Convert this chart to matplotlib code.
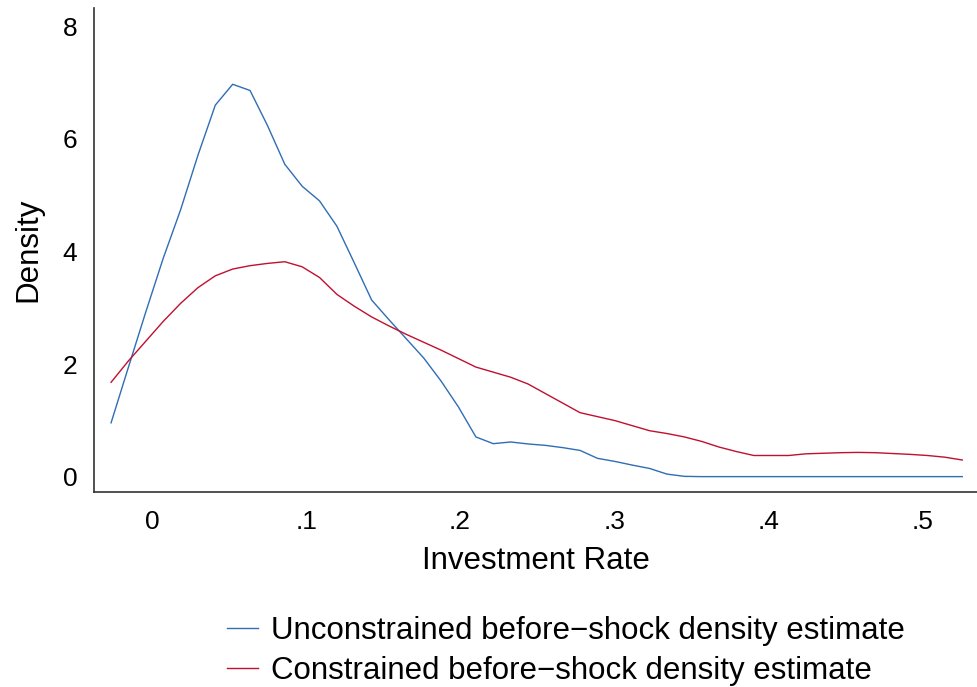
import numpy as np
import matplotlib
matplotlib.use("Agg")
import matplotlib.pyplot as plt

# kernel density estimates evaluated on 50 grid points
x_start, x_end, n_points = -0.0266, 0.5260, 50

unconstrained = [0.96, 1.95, 2.93, 3.88, 4.74, 5.71, 6.60, 6.97, 6.86, 6.24,
                 5.55, 5.16, 4.90, 4.45, 3.80, 3.14, 2.79, 2.45, 2.11, 1.70,
                 1.24, 0.71, 0.59, 0.62, 0.585, 0.56, 0.52, 0.47, 0.33, 0.275,
                 0.21, 0.15, 0.05, 0.01, 0.005, 0.005, 0.005, 0.005, 0.005, 0.005,
                 0.005, 0.005, 0.005, 0.005, 0.005, 0.005, 0.005, 0.005, 0.005, 0.005]

constrained = [1.68, 2.06, 2.41, 2.76, 3.08, 3.36, 3.57, 3.69, 3.75, 3.79,
               3.82, 3.73, 3.54, 3.24, 3.03, 2.84, 2.68, 2.53, 2.39, 2.25,
               2.10, 1.95, 1.86, 1.77, 1.65, 1.48, 1.31, 1.14, 1.07, 1.00,
               0.91, 0.82, 0.77, 0.71, 0.63, 0.53, 0.45, 0.38, 0.38, 0.38,
               0.41, 0.42, 0.43, 0.435, 0.43, 0.415, 0.40, 0.38, 0.35, 0.30]

xticks = [0, 0.1, 0.2, 0.3, 0.4, 0.5]
xtick_labels = ['0', '.1', '.2', '.3', '.4', '.5']
yticks = [0, 2, 4, 6, 8]

labels = ['Unconstrained before\u2212shock density estimate',
          'Constrained before\u2212shock density estimate']

plt.rcParams['font.family'] = ['Liberation Sans', 'DejaVu Sans']

grid = np.linspace(x_start, x_end, n_points)

fig = plt.figure(figsize=(9.77, 6.87), dpi=100)
ax = fig.add_axes([0.0962, 0.284, 0.904, 0.704])

ax.plot(grid, unconstrained, color='#2f6db5', linewidth=1.0, label=labels[0])
ax.plot(grid, constrained, color='#c0102e', linewidth=1.0, label=labels[1])

ax.set_xlim(-0.0377, 0.5357)
ax.set_ylim(-0.266, 8.32)
ax.set_xticks(xticks)
ax.set_xticklabels(xtick_labels)
ax.set_yticks(yticks)
ax.tick_params(axis='both', length=0, labelsize=19)
ax.tick_params(axis='x', pad=13)
ax.tick_params(axis='y', pad=12)

for side in ['top', 'right']:
    ax.spines[side].set_visible(False)
for side in ['left', 'bottom']:
    ax.spines[side].set_linewidth(1.2)
    ax.spines[side].set_color('#333333')

ax.set_xlabel('Investment Rate', fontsize=22.5, labelpad=9)
ax.set_ylabel('Density', fontsize=22.5, labelpad=14)

fig.legend(loc='upper left', bbox_to_anchor=(0.2325, 0.103), frameon=False,
           fontsize=22.5, handlelength=1.0, handletextpad=0.4, labelspacing=0.3,
           borderaxespad=0, borderpad=0)

fig.savefig('out.png', dpi=100)
